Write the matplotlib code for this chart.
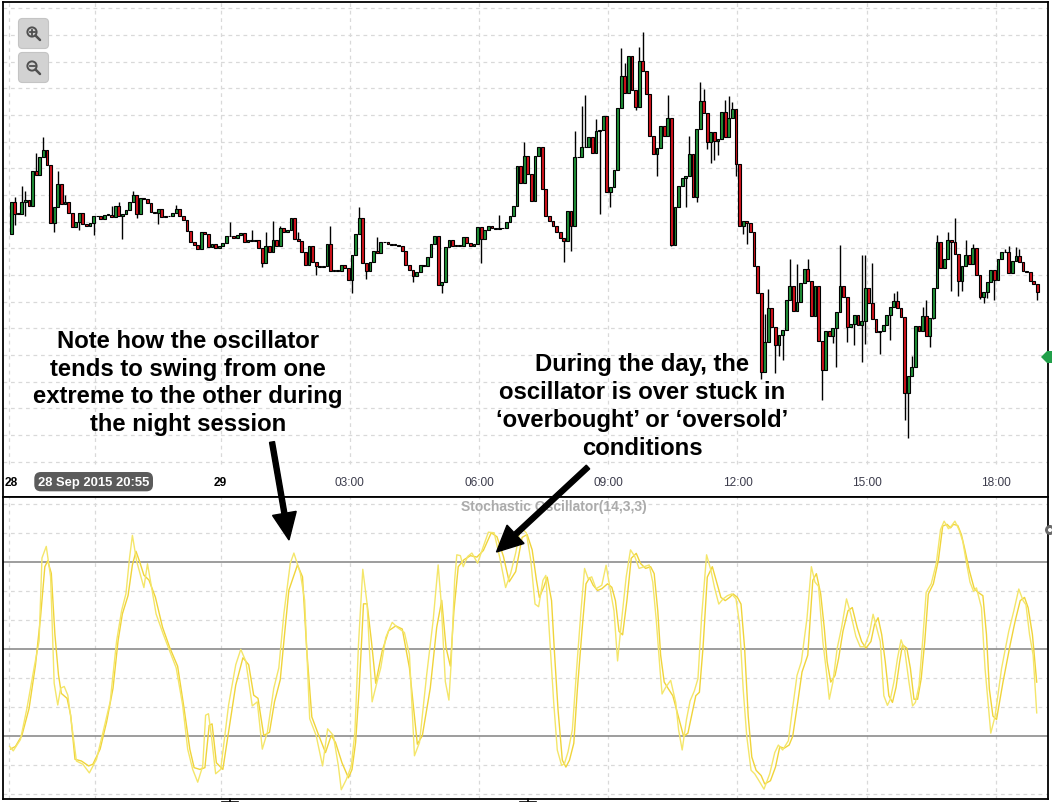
import matplotlib
matplotlib.use("Agg")
import matplotlib.pyplot as plt
import matplotlib.transforms as mtransforms
from matplotlib.patches import FancyBboxPatch, FancyArrow, Circle, Polygon
import numpy as np

plt.rcParams['font.family'] = ['Liberation Sans', 'DejaVu Sans']

# 5 minute candles, first one at 19:08 on 28 Sep 2015 (minutes counted from 19:00)
first_time = 8
step = 5
first_open = 1881.08
closes = [
    1883.45, 1882.58, 1882.58, 1883.5, 1883.65, 1883.2, 1885.83, 1885.5, 1886.83, 1887.4,
    1886.25, 1881.88, 1883.08, 1884.8, 1883.33, 1883.5, 1882.63, 1881.58, 1881.95, 1882.63,
    1881.83, 1881.65, 1881.88, 1882.4, 1882.4, 1882.2, 1882.53, 1882.53, 1882.33, 1883.15,
    1882.45, 1882.58, 1882.88, 1883.45, 1884.03, 1882.58, 1883.78, 1883.7, 1883.4, 1882.75,
    1882.63, 1882.95, 1882.33, 1882.4, 1882.45, 1882.63, 1882.95, 1882.4, 1882.15, 1881.33,
    1880.5, 1880.28, 1879.95, 1881.25, 1881.08, 1880.08, 1880.33, 1880.0, 1880.2, 1880.38,
    1880.9, 1880.95, 1880.75, 1881.0, 1881.13, 1880.5, 1880.63, 1880.58, 1880.65, 1880.0,
    1878.88, 1880.2,
    1879.75, 1880.65, 1880.2, 1881.5, 1881.25, 1881.4, 1882.25, 1880.7, 1880.58, 1879.7,
    1878.78, 1880.2, 1879.0, 1878.7, 1878.63, 1878.7, 1880.3, 1878.33, 1878.33, 1878.33,
    1878.78, 1878.5, 1877.65, 1879.5, 1881.08, 1882.25, 1878.9, 1878.28, 1879.0, 1879.83,
    1879.65, 1880.5, 1880.45, 1880.3, 1880.25, 1880.25, 1880.2, 1879.78, 1878.75, 1878.4,
    1877.9, 1878.25, 1878.75, 1878.7, 1879.33, 1880.3, 1880.9, 1877.28, 1877.45, 1880.08,
    1880.65, 1880.2, 1880.25, 1880.2, 1880.83, 1880.4, 1880.15, 1880.33, 1881.58, 1880.7,
    1881.4, 1881.7, 1881.5, 1881.45, 1881.5, 1881.5, 1881.95, 1882.45, 1883.15, 1886.2,
    1884.9, 1886.95,
    1885.58, 1883.58, 1886.9, 1887.63, 1884.45, 1882.45, 1882.08, 1881.65, 1881.2, 1880.75,
    1880.53, 1882.83, 1881.65, 1886.83, 1886.88, 1887.58, 1887.63, 1888.33, 1887.15, 1888.78,
    1888.88, 1889.95, 1884.2, 1884.58, 1885.88, 1890.53, 1892.9, 1891.63, 1894.4, 1891.88,
    1890.58, 1894.03, 1893.28, 1891.58, 1888.4, 1887.08, 1887.53, 1889.15, 1888.4, 1889.75,
    1880.28, 1883.13, 1884.65, 1885.28, 1885.45, 1887.08, 1883.83, 1888.93, 1891.08, 1890.13,
    1887.95, 1888.7, 1888.03, 1888.2, 1890.2, 1888.33, 1889.75, 1890.45, 1886.33, 1881.65,
    1882.03, 1881.9, 1881.2, 1878.7, 1876.63, 1870.7, 1873.0,
    1875.5, 1874.08, 1872.75, 1873.5, 1873.9, 1876.15, 1877.15, 1875.33, 1875.95, 1877.4,
    1878.45, 1877.53, 1874.9, 1877.15, 1873.08, 1870.9, 1873.83, 1873.45, 1874.0, 1875.25,
    1877.15, 1876.33, 1874.08, 1874.33, 1875.0, 1874.25, 1874.58, 1877.0, 1875.9, 1874.7,
    1873.75, 1873.83, 1874.25, 1875.0, 1875.63, 1876.08, 1875.53, 1874.83, 1869.15, 1870.45,
    1871.08, 1874.2, 1873.83, 1874.9, 1873.45, 1874.75, 1877.0, 1880.45, 1878.5, 1879.2,
    1880.65, 1880.5, 1879.58, 1877.58, 1878.65, 1879.5, 1878.83, 1880.0, 1878.0, 1876.33,
    1876.75, 1877.5, 1878.4, 1877.65, 1879.2, 1879.7, 1879.7, 1878.13, 1879.08, 1879.45,
    1879.0, 1878.33, 1878.2, 1877.58, 1877.33, 1876.7,
]

# long wicks, keyed by candle number
highs = {
    1: 1883.83, 3: 1884.65, 4: 1884.33, 7: 1887.13, 9: 1888.33, 13: 1885.83, 15: 1884.0,
    28: 1883.2, 30: 1883.45, 34: 1884.33, 46: 1883.25, 61: 1882.0, 67: 1881.38, 71: 1881.2,
    73: 1882.08, 75: 1881.7, 80: 1881.2, 89: 1881.65, 97: 1883.08, 102: 1880.83, 136: 1882.5,
    143: 1888.0, 157: 1888.8, 159: 1890.7, 160: 1891.5, 163: 1889.7, 170: 1895.0, 171: 1893.9,
    175: 1895.1, 176: 1896.2, 183: 1891.5, 189: 1888.45, 192: 1892.5, 193: 1891.95,
    199: 1891.1, 200: 1891.45, 201: 1891.0, 210: 1875.1, 211: 1876.95, 217: 1879.2,
    219: 1878.8, 222: 1879.2, 231: 1880.25, 237: 1879.5, 238: 1879.5, 240: 1878.9,
    246: 1876.65, 247: 1876.8, 254: 1875.6, 255: 1876.1, 258: 1881.0, 261: 1881.2,
    263: 1882.3, 266: 1880.6, 268: 1880.3, 277: 1879.95, 278: 1880.2, 280: 1880.1,
    281: 1879.95,
}
lows = {
    1: 1881.75, 4: 1882.45, 12: 1881.2, 19: 1881.4, 23: 1881.0, 31: 1880.7, 35: 1882.3,
    41: 1881.83, 70: 1878.6, 85: 1878.0, 95: 1876.65, 99: 1877.7, 112: 1877.45,
    120: 1876.65, 131: 1878.9, 154: 1879.0, 156: 1879.8, 164: 1882.6, 167: 1883.1,
    174: 1890.4, 180: 1885.45, 184: 1880.2, 188: 1883.1, 191: 1883.45, 194: 1887.45,
    195: 1886.4, 196: 1886.6, 197: 1887.0, 202: 1885.45, 204: 1881.1, 205: 1880.3,
    209: 1870.2, 213: 1870.65, 214: 1871.9, 215: 1871.6, 226: 1868.6, 229: 1872.9,
    230: 1871.1, 233: 1872.95, 235: 1872.75, 237: 1871.45, 238: 1872.8, 242: 1872.1,
    245: 1873.15, 249: 1867.1, 250: 1865.8, 251: 1871.95, 252: 1871.15, 256: 1872.6,
    257: 1874.7, 262: 1876.8, 264: 1876.45, 265: 1876.8, 270: 1876.2, 271: 1875.9,
    272: 1876.3, 274: 1876.15, 286: 1876.1,
}

# Stochastic Oscillator(14,3,3): (minute, value)
osc_k = [
    (6, 16.4), (11, 14.9), (21, 18.8), (30, 29.5), (40, 43.5), (47, 52.8), (51, 81.4), (57, 85.4),
    (63, 74.9), (68, 38.2), (73, 30.7), (77, 36.5), (82, 37.1), (87, 34.1), (92, 24.8), (99, 11.4),
    (108, 10.3), (117, 7.3), (127, 12.0), (136, 21.3), (146, 31.8), (155, 52.8), (162, 63.3),
    (168, 69.1), (173, 81.4), (177, 89.2), (183, 80.2), (193, 71.2), (198, 79.4), (204, 70.9),
    (210, 62.1), (220, 55.1), (229, 49.3), (238, 43.5), (247, 30.7), (254, 15.5), (261, 8.5),
    (268, 4.1), (275, 9.7), (279, 27.2), (283, 27.7), (287, 20.2), (293, 7.0), (300, 8.5),
    (311, 30.7), (321, 44.6), (328, 49.9), (335, 45.8), (344, 30.4), (351, 31.8), (358, 15.5),
    (365, 21.3), (374, 36.5), (381, 43.5), (388, 62.1), (397, 79.6), (402, 83.1), (411, 76.1),
    (417, 66.8), (424, 26.0), (433, 20.2), (442, 9.7), (449, 22.5), (457, 20.2), (464, 9.7),
    (468, 1.5), (475, 5.0), (482, 9.7), (487, 21.3), (492, 51.6), (498, 77.5), (504, 65.6),
    (511, 31.8), (518, 38.8), (523, 43.5), (530, 54.0), (539, 59.2), (546, 57.5), (556, 55.7),
    (563, 48.1), (570, 13.2), (577, 17.8), (587, 41.1), (596, 59.8), (603, 79.0), (607, 66.8),
    (613, 38.8), (618, 32.4), (621, 44.6), (626, 73.8), (629, 82.5), (634, 82.2), (638, 78.4),
    (644, 81.9), (650, 83.1), (658, 79.6), (666, 85.4), (673, 90.3), (681, 90.1), (689, 81.4),
    (697, 71.2), (704, 76.1), (711, 83.1), (718, 92.0), (726, 90.0),
    (732, 80.7), (738, 65.5), (743, 64.6), (749, 73.7), (753, 75.4), (759, 51.5), (764, 31.6),
    (769, 15.2), (775, 9.9), (779, 10.5), (784, 14.6), (790, 22.2), (796, 43.3), (802, 63.2),
    (807, 77.8), (812, 74.3), (817, 74.9), (823, 70.8), (831, 72.0), (837, 78.9), (843, 70.2),
    (848, 63.2), (853, 45.9), (858, 58.5), (865, 74.9), (871, 84.2), (877, 81.9), (883, 77.8),
    (890, 78.4), (897, 79.0), (902, 73.1), (907, 59.7), (912, 43.3), (915, 34.5), (920, 36.8),
    (927, 39.2), (934, 31.6), (938, 22.2), (943, 15.2), (949, 25.7), (954, 32.1), (960, 35.6),
    (965, 39.8), (970, 60.8), (977, 82.5), (983, 77.2), (988, 71.3), (994, 65.5), (1000, 67.3),
    (1006, 68.4), (1012, 69.0), (1018, 67.3), (1023, 58.5), (1028, 36.2), (1033, 19.9),
    (1039, 8.2), (1044, 7.0), (1050, 4.6), (1057, 1.7), (1065, 7.0), (1072, 14.3), (1077, 16.9),
    (1083, 15.2), (1091, 18.4), (1096, 28.0), (1103, 40.9), (1109, 45.6), (1117, 60.8),
    (1123, 78.4), (1128, 73.1), (1133, 71.6), (1139, 52.6), (1144, 42.1), (1148, 32.7),
    (1153, 38.6), (1159, 50.3), (1165, 57.3), (1172, 67.3), (1178, 62.0), (1185, 54.4),
    (1191, 50.8), (1197, 50.8), (1204, 55.5), (1209, 62.0), (1214, 57.3), (1219, 52.6),
    (1224, 33.9), (1229, 30.6), (1233, 32.7), (1238, 38.6), (1243, 46.8), (1248, 53.2),
    (1253, 49.7), (1259, 38.6), (1264, 30.4), (1268, 31.6), (1273, 37.4), (1278, 52.6),
    (1283, 69.6), (1290, 72.5), (1297, 79.5), (1303, 91.2), (1308, 94.1), (1314, 91.5),
    (1318, 92.4), (1323, 94.1), (1329, 91.0), (1334, 87.1), (1338, 81.3), (1344, 73.1),
    (1349, 69.9), (1353, 71.1), (1360, 64.3), (1365, 43.3), (1370, 29.2), (1373, 21.0),
    (1379, 26.9), (1388, 43.3), (1398, 56.1), (1405, 63.1), (1412, 70.7), (1418, 66.7),
    (1422, 65.3), (1427, 55.0), (1432, 47.9), (1437, 28.0),
]
osc_d = [
    (7, 15.5), (14, 16.4), (23, 20.2), (33, 29.5), (42, 44.6), (49, 61.0), (55, 78.4), (59, 80.4),
    (64, 76.1), (69, 55.1), (74, 41.1), (78, 34.7), (86, 33.0), (91, 27.2), (97, 12.0), (106, 11.4),
    (116, 9.7), (122, 10.3), (132, 15.5), (141, 24.8), (150, 36.5), (157, 52.8), (163, 62.1),
    (171, 68.5), (177, 79.0), (182, 83.7), (187, 80.2), (193, 75.5), (200, 73.8), (209, 67.9),
    (219, 57.5), (229, 50.5), (240, 44.1), (249, 29.5), (257, 15.5), (263, 9.1), (271, 8.5),
    (278, 9.1), (284, 23.7), (288, 24.2), (294, 10.8), (303, 8.5), (313, 24.8), (321, 37.6),
    (331, 47.0), (339, 44.6), (346, 34.1), (352, 33.0), (360, 20.2), (368, 21.3), (375, 31.8),
    (383, 39.4), (389, 55.1), (395, 70.3), (407, 79.0), (414, 74.9), (420, 49.3), (427, 26.6),
    (435, 21.3), (446, 14.3), (454, 20.2), (460, 17.8), (469, 10.8), (478, 5.6), (483, 8.5),
    (488, 17.8), (493, 36.5), (499, 65.6), (504, 65.6), (510, 52.8), (516, 38.2), (525, 49.3),
    (534, 56.3), (544, 58.0), (553, 56.9), (563, 43.5), (574, 17.2), (581, 20.2), (592, 36.5),
    (601, 57.5), (608, 66.8), (614, 50.5), (620, 44.1), (625, 63.3), (631, 78.4), (639, 80.8),
    (648, 82.2), (657, 81.7), (666, 84.0), (677, 90.1), (685, 88.7), (694, 81.9), (702, 73.2),
    (711, 76.7), (720, 88.5), (727, 89.5), (734, 84.2), (740, 73.7), (744, 67.8), (750, 71.3),
    (755, 74.8), (761, 66.7), (765, 49.1), (770, 29.2), (776, 11.7), (781, 9.3), (786, 11.7),
    (792, 17.5), (797, 36.2), (803, 55.0), (809, 72.5), (814, 74.6), (819, 72.0), (825, 70.2),
    (831, 70.8), (839, 72.5), (845, 71.3), (850, 66.7), (855, 56.1), (860, 54.9), (866, 66.7),
    (872, 81.3), (879, 83.0), (885, 79.5), (892, 77.8), (899, 78.4), (904, 76.0), (909, 63.2),
    (913, 47.9), (918, 38.6), (924, 36.2), (930, 33.9), (935, 29.2), (940, 24.5), (945, 19.9),
    (951, 21.0), (956, 26.9), (962, 33.9), (967, 35.1), (972, 50.3), (978, 74.8), (985, 78.4),
    (991, 73.1), (997, 67.8), (1003, 66.7), (1009, 67.8), (1014, 69.0), (1020, 67.8),
    (1025, 65.5), (1030, 50.3), (1035, 26.9), (1040, 12.8), (1046, 8.2), (1053, 6.4),
    (1058, 3.5), (1066, 4.6), (1073, 9.3), (1079, 16.3), (1085, 15.8), (1092, 16.9),
    (1097, 19.9), (1104, 31.6), (1110, 42.1), (1118, 47.9), (1125, 73.7), (1130, 76.0),
    (1136, 69.0), (1141, 57.3), (1145, 45.6), (1150, 38.6), (1156, 40.9), (1161, 46.8),
    (1167, 56.1), (1174, 63.2), (1180, 64.3), (1187, 57.3), (1193, 52.6), (1199, 50.3),
    (1206, 52.6), (1211, 58.5), (1216, 60.8), (1221, 55.0), (1226, 45.6), (1231, 33.9),
    (1236, 31.6), (1241, 36.8), (1246, 45.6), (1250, 51.5), (1256, 50.3), (1261, 43.3),
    (1266, 32.7), (1271, 32.7), (1276, 39.7), (1281, 52.6), (1286, 69.0), (1293, 72.5),
    (1300, 80.7), (1306, 92.4), (1312, 93.0), (1317, 91.8), (1321, 93.0), (1327, 92.6),
    (1332, 89.5), (1337, 84.2), (1343, 77.2), (1350, 70.8), (1355, 69.6), (1362, 68.4),
    (1367, 55.0), (1371, 36.2), (1376, 26.9), (1381, 25.7), (1390, 38.6), (1400, 51.5),
    (1407, 59.7), (1414, 66.7), (1420, 67.8), (1425, 64.3), (1431, 55.0), (1437, 38.6),
]

grid_times = [5, 125, 300, 480, 660, 840, 1020, 1200, 1380]
tick_times = [480, 660, 840, 1020, 1200, 1380]
tick_labels = ["03:00", "06:00", "09:00", "12:00", "15:00", "18:00"]
price_grid = np.arange(1864, 1899, 2)

W, H = 1052, 803
fig = plt.figure(figsize=(W / 100, H / 100), dpi=100)
fig.patch.set_facecolor('white')

sep = 497.5
ax = fig.add_axes([3 / W, 1 - sep / H, 1044.7 / W, (sep - 3) / H])
ax2 = fig.add_axes([3 / W, 1 - 800 / H, 1044.7 / W, (800 - sep) / H])

xlim = (-3.3, 1452.3)
gridc = '#d9d9d9'

# ---- price panel ----
closes = np.array(closes)
opens = np.concatenate([[first_open], closes[:-1]])
t = first_time + step * np.arange(len(closes))
up = closes >= opens
colors = np.where(up, '#1f8f36', '#d3121c')
bottoms = np.minimum(opens, closes)
heights = np.maximum(np.abs(closes - opens), 0.05)

for k, v in highs.items():
    ax.vlines(t[k], max(opens[k], closes[k]), v, color='black', lw=1.0, zorder=2)
for k, v in lows.items():
    ax.vlines(t[k], v, min(opens[k], closes[k]), color='black', lw=1.0, zorder=2)
ax.bar(t, heights, bottom=bottoms, width=3.9, color=colors, edgecolor='black',
       linewidth=0.8, zorder=3)

for p in price_grid:
    ax.axhline(p, color=gridc, lw=0.9, ls=(0, (3, 3)), zorder=0)
for g in grid_times:
    ax.axvline(g, ymin=0.065, color=gridc, lw=0.9, ls=(0, (3, 3)), zorder=0)

ax.set_xlim(*xlim)
ax.set_ylim(1861.38, 1898.48)
ax.set_xticks([])
ax.set_yticks([])
for s in ax.spines.values():
    s.set_color('black')
    s.set_linewidth(1.3)

tr = mtransforms.blended_transform_factory(ax.transData, ax.transAxes)
ly = 0.03
for tt, lab in zip(tick_times, tick_labels):
    ax.text(tt, ly, lab, transform=tr, ha='center', va='center', fontsize=8.6, color='#3c3c4c')
ax.text(7.5, ly, "28", transform=tr, ha='center', va='center', fontsize=8.6,
        fontweight='bold', color='black')
ax.text(300, ly, "29", transform=tr, ha='center', va='center', fontsize=8.6,
        fontweight='bold', color='black')
ax.text(123, ly, "28 Sep 2015 20:55", transform=tr, ha='center', va='center', fontsize=9.4,
        fontweight='bold', color='white',
        bbox=dict(boxstyle='round,pad=0.28,rounding_size=0.5', fc='#5b5b5b', ec='none'))

# ---- oscillator panel ----
kt, kv = zip(*osc_k)
dt, dv = zip(*osc_d)
for lvl in range(0, 101, 10):
    if lvl in (20, 50, 80):
        ax2.axhline(lvl, color='#8c8c8c', lw=1.2, zorder=1)
    else:
        ax2.axhline(lvl, color=gridc, lw=0.9, ls=(0, (3, 3)), zorder=0)
for g in grid_times:
    ax2.axvline(g, color=gridc, lw=0.9, ls=(0, (3, 3)), zorder=0)
ax2.plot(dt, dv, color='#f0d43a', lw=1.0, zorder=3)
ax2.plot(kt, kv, color='#f4e66a', lw=1.0, zorder=4)
ax2.set_xlim(*xlim)
ax2.set_ylim(-1.7, 102.6)
ax2.set_xticks([])
ax2.set_yticks([])
for s in ax2.spines.values():
    s.set_color('black')
    s.set_linewidth(1.3)
ax2.text(0.527, 0.968, "Stochastic Oscillator(14,3,3)", transform=ax2.transAxes,
         ha='center', va='center', fontsize=10, fontweight='bold', color='#ababab')

# ---- overlay: buttons, notes, arrows ----
ov = fig.add_axes([0, 0, 1, 1], zorder=10)
ov.set_xlim(0, W)
ov.set_ylim(H, 0)
ov.axis('off')
ov.patch.set_alpha(0)

for cy, sign in ((34, '+'), (68, '-')):
    ov.add_patch(FancyBboxPatch((18.5, cy - 14.5), 30, 30,
                                boxstyle='round,pad=0,rounding_size=4',
                                fc='#d2d2d2', ec='#c4c4c4', lw=0.8))
    ov.add_patch(Circle((32, cy - 1), 4.6, fill=False, ec='#505050', lw=1.4))
    ov.plot([35.5, 40], [cy + 2.5, cy + 7], color='#505050', lw=1.8, solid_capstyle='round')
    ov.plot([29.5, 34.5], [cy - 1, cy - 1], color='#505050', lw=1.3)
    if sign == '+':
        ov.plot([32, 32], [cy - 3.5, cy + 1.5], color='#505050', lw=1.3)

note_kw = dict(ha='center', va='center', fontsize=17.2, fontweight='bold',
               color='black', linespacing=1.26)
ov.text(188, 383, "Note how the oscillator\ntends to swing from one\n"
        "extreme to the other during\nthe night session", **note_kw)
ov.text(642, 406.5, "During the day, the\noscillator is over stuck in\n"
        "\u2018overbought\u2019 or \u2018oversold\u2019\nconditions", **note_kw)

ov.add_patch(FancyArrow(272, 443, 17, 98, width=5, head_width=24, head_length=27,
                        length_includes_head=True, color='black'))
ov.add_patch(FancyArrow(588, 468, -91.5, 85, width=5, head_width=25, head_length=26,
                        length_includes_head=True, color='black'))

# right edge widgets
ov.add_patch(Polygon([[1041, 358], [1047, 352], [1053, 352], [1053, 364], [1047, 364]],
                     closed=True, fc='#22a04a', ec='none'))
ov.add_patch(Circle((1050, 531), 5, fc='#6a6a6a', ec='none'))
ov.add_patch(Circle((1050, 531), 2, fc='white', ec='none'))
for bx in (230, 528):
    ov.plot([bx, bx], [800, 803], color='black', lw=1.2)
    ov.plot([bx - 8, bx + 8], [802.5, 802.5], color='black', lw=1.2)

fig.savefig("out.png", dpi=100, facecolor='white')
